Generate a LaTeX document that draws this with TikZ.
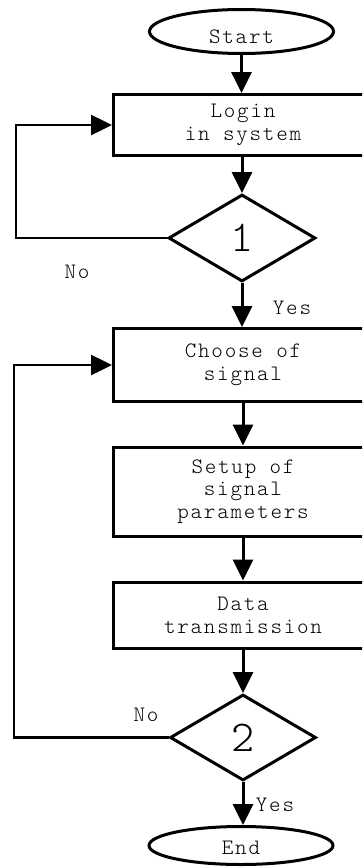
\documentclass[tikz,border=0pt]{standalone}
\usepackage{fontspec}
\setmainfont{Latin Modern Mono Light}[LetterSpace=8]
\usetikzlibrary{shapes.geometric,arrows.meta}
\begin{document}
\begin{tikzpicture}[x=1pt,y=-1pt,
  txt/.style={font=\fontsize{22}{22.7}\selectfont, align=center},
  stepbox/.style={draw, line width=3pt, rectangle, minimum width=259pt, inner sep=0pt, txt},
  term/.style={draw, line width=3pt, ellipse, minimum width=184pt, inner sep=0pt},
  decide/.style={draw, line width=3pt, diamond, minimum width=147pt, minimum height=87pt, inner sep=0pt},
  flow/.style={line width=3pt, -{Triangle[length=21pt,width=20pt]}},
  back/.style={line width=2.5pt, -{Triangle[length=21pt,width=20pt]}},
  lbl/.style={font=\fontsize{22}{22.7}\selectfont},
  num/.style={font=\fontsize{44}{44}\selectfont}
]
\path[use as bounding box, clip] (0,0) rectangle (362,867);

\node[term, minimum height=44pt,
  label={[lbl, yshift=-5pt]center:Start}] (start) at (241.5,31.5) {};
\node[stepbox, minimum height=61pt] (login) at (243,125) {Login\\in system};
\node[decide, label={[num]center:1}] (d1) at (242,238) {};
\node[stepbox, minimum height=73pt] (choose) at (243,365) {Choose of\\signal};
\node[stepbox, minimum height=89pt] (setup) at (243,491.5) {Setup of\\signal\\parameters};
\node[stepbox, minimum height=66pt] (data) at (243,615) {Data\\transmission};
\node[decide, minimum width=146pt, minimum height=86pt,
  label={[num]center:2}] (d2) at (243,737.5) {};
\node[term, minimum height=38pt,
  label={[lbl, yshift=-2pt]center:End}] (end) at (241,845.5) {};

\coordinate (l1) at (16,0);
\coordinate (l2) at (14,0);

\draw[flow] (start.south) -- (start.south |- login.north);
\draw[flow] (d1.north |- login.south) -- (d1.north);
\draw[back] (d1.west) -- (d1.west -| l1) |- (login.west);
\draw[flow] (d1.south) -- (d1.south |- choose.north);
\draw[flow] (choose.south) -- (setup.north);
\draw[flow] (setup.south) -- (data.north);
\draw[flow] (d2.north |- data.south) -- (d2.north);
\draw[back] (d2.west) -- (d2.west -| l2) |- (choose.west);
\draw[flow] (d2.south) -- (d2.south |- end.north);

\node[lbl] (no1) at (77,272) {No};
\node[lbl] (yes1) at (292,308) {Yes};
\node[lbl] (no2) at (146,715) {No};
\node[lbl] (yes2) at (275,805) {Yes};
\end{tikzpicture}
\end{document}
